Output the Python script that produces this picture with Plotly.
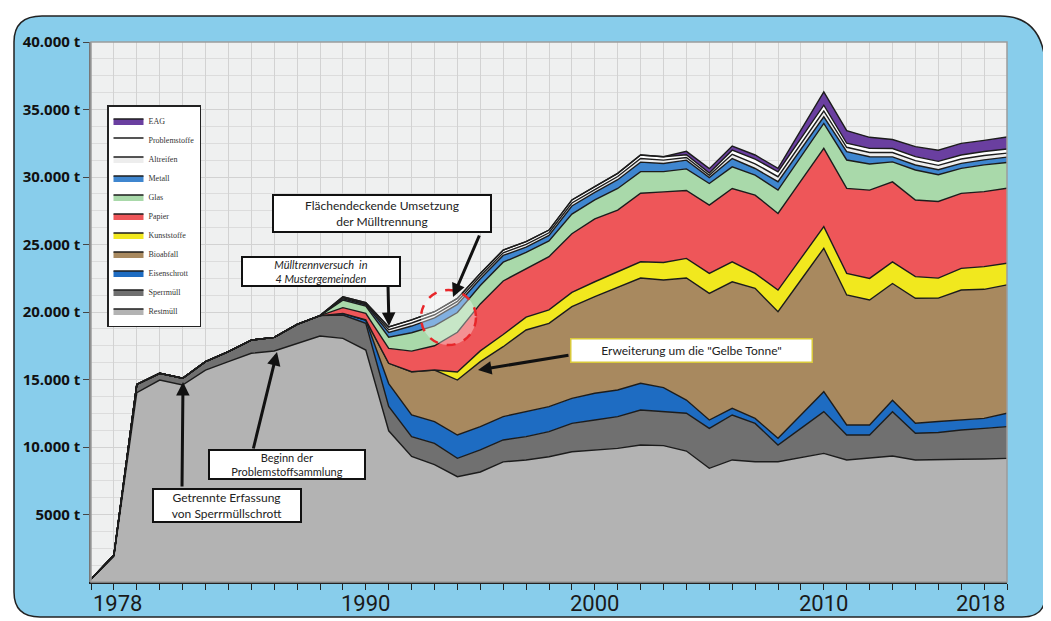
import plotly.graph_objects as go

# ---------------- data (tonnes per year) ----------------
years = list(range(1978, 2019))

restmuell = [200, 1900, 14020, 14960, 14590, 15700, 16320, 16940, 17110, 17680, 18220,
             18050, 17180, 11200, 9300, 8700, 7800, 8150, 8900, 9040, 9280, 9650,
             9780, 9900, 10150, 10100, 9700, 8420, 9040, 8910, 8910, 9220,
             9530, 9040, 9160, 9330, 9040, 9040, 9090, 9110, 9160]
sperrmuell = [0, 100, 620, 500, 500, 620, 740, 980, 1010, 1410, 1510,
              1730, 1980, 1800, 1470, 1570, 1360, 1630, 1620, 1730, 1860, 2100,
              2220, 2350, 2590, 2520, 2800, 2960, 3330, 2840, 1240, 2160,
              3090, 1850, 1730, 3280, 1980, 2030, 2170, 2270, 2350]
eisenschrott = [0] * 11 + [120, 250, 1700, 1600, 1610, 1730, 1730, 1730, 1850, 1850, 1850,
                           1980, 1970, 1980, 1780, 980, 620, 490, 370, 490, 990,
                           1480, 740, 740, 860, 740, 820, 740, 740, 990]
bioabfall = [0] * 13 + [1500, 3210, 3820, 4070, 4810, 5180, 6050, 6170, 6800,
                        7160, 7630, 7800, 7970, 9040, 9380, 9380, 9630, 9380, 10000,
                        10620, 9630, 9260, 8640, 9260, 9140, 9630, 9560, 9510]
kunststoffe = [0] * 16 + [600, 800, 900, 950, 1000, 1050,
                          1100, 1150, 1200, 1300, 1450, 1480, 1480, 1110, 1600, 1600,
                          1600, 1600, 1600, 1600, 1600, 1480, 1600, 1680, 1600]
papier = [0] * 11 + [420, 490, 1100, 1520, 1800, 2940, 3480, 3970, 3600, 3940, 4350,
                     4660, 4550, 5080, 5230, 5030, 5060, 5430, 5800, 5680, 5740,
                     5800, 6300, 6540, 5930, 5680, 5680, 5560, 5560, 5560]
glas = [0] * 11 + [560, 540, 840, 1360, 1470, 1460, 1360, 1390, 1190, 1170, 1450,
                   1400, 1600, 1600, 1500, 1600, 1600, 1600, 1480, 1730, 1790,
                   1850, 2100, 1930, 1480, 2220, 1980, 1850, 1980, 1900]
metall = [0] * 11 + [100, 100, 350, 500, 600, 600, 500, 500, 400, 400, 600,
                     560, 650, 700, 600, 650, 440, 620, 490, 620, 560,
                     490, 620, 540, 370, 370, 370, 370, 370, 400]
altreifen = [0] * 11 + [75, 75, 200, 225, 225, 225, 200, 200, 200, 200, 225,
                        210, 235, 265, 250, 200, 170, 310, 350, 370, 400,
                        430, 320, 320, 320, 320, 320, 320, 320, 300]
problemstoffe = [0] * 11 + [75, 75, 200, 225, 225, 225, 200, 200, 200, 200, 225,
                            210, 235, 265, 250, 200, 170, 310, 350, 370, 400,
                            430, 300, 300, 300, 300, 300, 300, 300, 300]
eag = [0] * 26 + [250, 320, 300, 300, 250, 620,
                  990, 940, 820, 670, 740, 820, 860, 820, 890]

series_names = ["Restmüll", "Sperrmüll", "Eisenschrott", "Bioabfall", "Kunststoffe",
                "Papier", "Glas", "Metall", "Altreifen", "Problemstoffe", "EAG"]
series_values = [restmuell, sperrmuell, eisenschrott, bioabfall, kunststoffe,
                 papier, glas, metall, altreifen, problemstoffe, eag]
series_colors = ["#B3B3B3", "#707070", "#1E6CC2", "#A8895F", "#F1E81E",
                 "#EE5659", "#A9D9AA", "#3F86CF", "#EDEDED", "#FFFFFF", "#6A3FA0"]

ytick_vals = [5000, 10000, 15000, 20000, 25000, 30000, 35000, 40000]
ytick_text = ["5000 t", "10.000 t", "15.000 t", "20.000 t", "25.000 t",
              "30.000 t", "35.000 t", "40.000 t"]
xlabel_years = [1978, 1990, 2000, 2010, 2018]

# ---------------- layout helpers ----------------
# the page adds an 8px body margin, so the figure is made 8px smaller
OFF = 8
W, H = 1051 - OFF, 621 - OFF
PLOT_L, PLOT_R, PLOT_T, PLOT_B = 91, 1007, 42, 582   # in reference pixels
PW, PH = PLOT_R - PLOT_L, PLOT_B - PLOT_T
ML, MT = PLOT_L - OFF, PLOT_T - OFF
MR, MB = W - ML - PW, H - MT - PH


def px(x):
    return (x - PLOT_L) / PW


def py(y):
    return (PLOT_B - y) / PH


fig = go.Figure()
for name, vals, col in zip(series_names, series_values, series_colors):
    fig.add_trace(go.Scatter(
        x=years, y=vals, name=name, stackgroup="one", mode="lines",
        line=dict(color="#1c1c1c", width=1.4), fillcolor=col,
    ))

shapes = []
# blue background frame
frame = (f"M {px(14)},{py(42)} Q {px(14)},{py(16)} {px(42)},{py(16)} "
         f"L {px(1000)},{py(16)} Q {px(1040)},{py(16)} {px(1045)},{py(60)} "
         f"L {px(1045)},{py(596)} Q {px(1045)},{py(617)} {px(1022)},{py(617)} "
         f"L {px(40)},{py(617)} Q {px(14)},{py(617)} {px(14)},{py(592)} Z")
shapes.append(dict(type="path", path=frame, xref="paper", yref="paper",
                   fillcolor="#88CDEB", line=dict(color="#222222", width=1.5), layer="below"))
# plot area background
shapes.append(dict(type="rect", xref="paper", yref="paper", x0=0, x1=1, y0=0, y1=1,
                   fillcolor="#EFF0F0", line=dict(width=0), layer="below"))
# plot frame
shapes.append(dict(type="rect", xref="paper", yref="paper", x0=0, x1=1, y0=0, y1=1,
                   line=dict(color="#9C9C9C", width=1.5), layer="above"))
# highlighted dashed circle
shapes.append(dict(type="circle", xref="paper", yref="paper",
                   x0=px(421), x1=px(476), y0=py(345), y1=py(290),
                   fillcolor="rgba(255,255,255,0.35)",
                   line=dict(color="#E8262A", width=2.5, dash="dash"), layer="above"))

annotations = []
# x labels
for yr in xlabel_years:
    anchor = "left" if yr == xlabel_years[0] else ("right" if yr == xlabel_years[-1] else "center")
    annotations.append(dict(x=yr, xref="x", y=py(589), yref="paper", text=str(yr),
                            showarrow=False, xanchor=anchor, yanchor="top",
                            font=dict(family="Roboto", size=22, color="#1a1a1a")))

# text boxes: text, centre x, centre y, width, height, font size, border colour, border width, pad
boxes = [
    ("Flächendeckende Umsetzung<br>der Mülltrennung", 382, 213, 212, 31, 12, "#111111", 2, 2),
    ("<i>Mülltrennversuch  in<br>4 Mustergemeinden</i>", 321, 271, 156, 27, 11, "#111111", 2, 0),
    ("Erweiterung um die \"Gelbe Tonne\"", 691, 350, 236, 18, 12, "#D9C93A", 1.5, 2),
    ("Beginn der<br>Problemstoffsammlung", 287, 464, 154, 27, 11, "#111111", 2, 0),
    ("Getrennte Erfassung<br>von Sperrmüllschrott", 227, 505, 146, 31, 12, "#111111", 2, 0),
]
for text, cx, cy, w, h, fs, bc, bw, pad in boxes:
    annotations.append(dict(x=px(cx), y=py(cy), xref="paper", yref="paper", text=text,
                            xanchor="center", yanchor="middle",
                            showarrow=False, width=w, height=h, align="center", valign="middle",
                            bgcolor="white", bordercolor=bc, borderwidth=bw, borderpad=pad,
                            font=dict(family="Lato", size=fs, color="#222222")))

# arrows (head in reference pixels, tail offset in pixels)
arrows = [(453, 297, 27, -63), (389, 326, -1, -41), (478, 370, 92, -15),
          (277, 352, -24, 98), (183, 382, -1, 106)]
for hx, hy, ax, ay in arrows:
    annotations.append(dict(x=px(hx), y=py(hy), xref="paper", yref="paper", text="",
                            showarrow=True, ax=ax, ay=ay, arrowhead=2, arrowsize=0.9,
                            arrowwidth=3, arrowcolor="#111111"))

fig.update_layout(
    width=W, height=H,
    margin=dict(l=ML, r=MR, t=MT, b=MB, pad=0),
    paper_bgcolor="white",
    plot_bgcolor="rgba(0,0,0,0)",
    shapes=shapes,
    annotations=annotations,
    showlegend=True,
    legend=dict(x=px(107), y=py(105), xanchor="left", yanchor="top",
                bgcolor="white", bordercolor="#222222", borderwidth=1.5,
                traceorder="reversed", font=dict(family="Liberation Serif", size=8, color="#333333"),
                itemwidth=30, entrywidth=80, tracegroupgap=2),
    xaxis=dict(range=[1978, 2018], tickvals=years, showticklabels=False,
               ticks="outside", ticklen=6, tickcolor="#222222", tickwidth=1.2,
               showline=True, linecolor="#222222", linewidth=1.5,
               showgrid=True, gridcolor="#D2D2D2", gridwidth=1, zeroline=False),
    yaxis=dict(range=[0, 40000], tickvals=ytick_vals, ticktext=ytick_text,
               ticks="outside", ticklen=6, tickcolor="#444444",
               tickfont=dict(family="Open Sans", size=15, color="#111111", weight="bold"),
               showline=True, linecolor="#777777", linewidth=1.5,
               showgrid=True, gridcolor="#D2D2D2", gridwidth=1, zeroline=False,
               minor=dict(dtick=1250, showgrid=True, gridcolor="#DCDCDC", gridwidth=1)),
)

fig.write_html("out.html")
